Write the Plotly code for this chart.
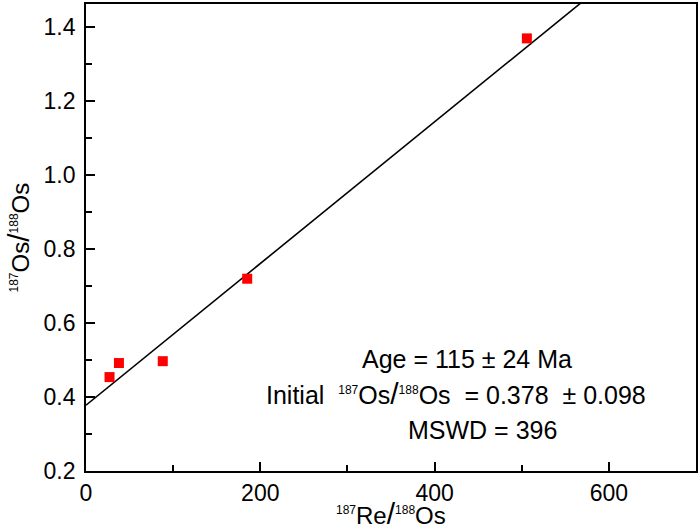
import plotly.graph_objects as go

# 187Re/188Os vs 187Os/188Os samples
re_os = [27.0, 37.8, 88.1, 185.0, 505.9]
os_os = [0.454, 0.492, 0.497, 0.720, 1.370]

# isochron line end points (intercept 0.378, age 115 Ma)
fit_x = [0, 700]
fit_y = [0.378, 1.719]

FONT = "Liberation Sans, Arial, sans-serif"
NB = "\u00a0"

sup = "<sup><span style='font-size:12px'>%s</span></sup>"
slash = "<span style='font-size:30px'>/</span>"
ytitle = sup % "187" + "Os" + slash + sup % "188" + "Os"
xtitle = sup % "187" + "Re" + slash + sup % "188" + "Os"

age_txt = "Age = 115 ± 24 Ma"
init_txt = ("Initial" + NB * 2 + sup % "187" + "Os" + slash + sup % "188" + "Os"
            + NB * 2 + "= 0.378" + NB * 2 + "± 0.098")
mswd_txt = "MSWD = 396"

fig = go.Figure()
fig.add_trace(go.Scatter(x=fit_x, y=fit_y, mode="lines",
                         line=dict(color="black", width=1.6), showlegend=False))
fig.add_trace(go.Scatter(x=re_os, y=os_os, mode="markers",
                         marker=dict(symbol="square", size=10, color="#ff0000"),
                         showlegend=False))

axis_common = dict(
    showline=True, linecolor="black", linewidth=1.8, mirror=True,
    ticks="inside", ticklen=9, tickwidth=1.5, tickcolor="black",
    showgrid=False, zeroline=False,
    tickfont=dict(family=FONT, size=23, color="black"),
)
fig.update_xaxes(range=[0, 700], dtick=200, tick0=0,
                 minor=dict(dtick=100, ticks="inside", ticklen=6, tickwidth=1.5,
                            tickcolor="black", showgrid=False),
                 **axis_common)
fig.update_yaxes(range=[0.2, 1.463], dtick=0.2, tick0=0.2, tickformat=".1f",
                 ticklabelstandoff=4,
                 minor=dict(dtick=0.1, ticks="inside", ticklen=6, tickwidth=1.5,
                            tickcolor="black", showgrid=False),
                 **axis_common)

fig.add_annotation(text=ytitle, xref="paper", yref="paper", x=0, y=0.5,
                   xanchor="center", yanchor="middle",
                   xshift=-68, textangle=-90, showarrow=False,
                   font=dict(family=FONT, size=24, color="black"))
fig.add_annotation(text=xtitle, xref="paper", yref="paper", x=0.5, y=0,
                   xanchor="center", yanchor="middle",
                   yshift=-42, showarrow=False,
                   font=dict(family=FONT, size=24, color="black"))

fig.add_annotation(text=age_txt, x=437.6, y=0.502, showarrow=False,
                   xanchor="center", yanchor="middle",
                   font=dict(family=FONT, size=25, color="black"))
fig.add_annotation(text=init_txt, x=425, y=0.41, showarrow=False,
                   xanchor="center", yanchor="middle",
                   font=dict(family=FONT, size=25, color="black"))
fig.add_annotation(text=mswd_txt, x=454.7, y=0.31, showarrow=False,
                   xanchor="center", yanchor="middle",
                   font=dict(family=FONT, size=25, color="black"))

fig.update_layout(width=700, height=531,
                  margin=dict(l=86, r=3, t=2, b=60),
                  plot_bgcolor="white", paper_bgcolor="white")

fig.write_html("out.html", config={"displayModeBar": False},
               post_script="document.body.style.margin='0px';")
